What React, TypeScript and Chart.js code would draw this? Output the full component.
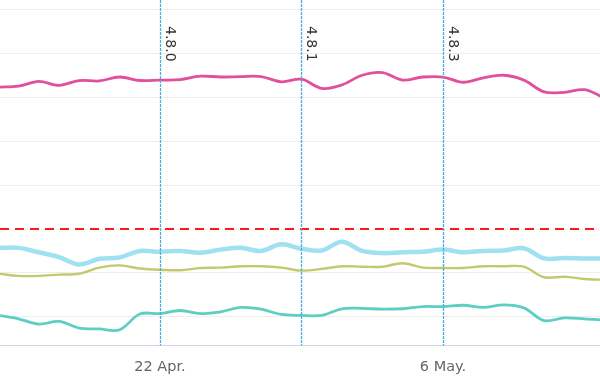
import React, { useEffect, useRef } from "react";
import { Chart, registerables } from "chart.js";

Chart.register(...registerables);

const dates = [
  "2019-04-14", "2019-04-15", "2019-04-16", "2019-04-17", "2019-04-18", "2019-04-19",
  "2019-04-20", "2019-04-21", "2019-04-22", "2019-04-23", "2019-04-24", "2019-04-25",
  "2019-04-26", "2019-04-27", "2019-04-28", "2019-04-29", "2019-04-30", "2019-05-01",
  "2019-05-02", "2019-05-03", "2019-05-04", "2019-05-05", "2019-05-06", "2019-05-07",
  "2019-05-08", "2019-05-09", "2019-05-10", "2019-05-11", "2019-05-12", "2019-05-13",
  "2019-05-14",
];

const pinkSeries = [
  62.4, 62.6, 63.7, 62.8, 63.9, 63.8, 64.7, 63.9, 64.0, 64.1, 64.9, 64.7, 64.8, 64.8,
  63.6, 64.2, 62.1, 62.9, 65.1, 65.7, 64.0, 64.7, 64.7, 63.5, 64.5, 65.1, 64.0, 61.3,
  61.2, 61.8, 59.9,
];
const blueSeries = [
  25.7, 25.7, 24.7, 23.6, 21.9, 23.2, 23.5, 25.0, 24.8, 25.0, 24.6, 25.3, 25.7, 25.0,
  26.5, 25.5, 25.1, 27.1, 25.0, 24.5, 24.7, 24.8, 25.3, 24.7, 25.0, 25.1, 25.6, 23.3,
  23.4, 23.3, 23.3,
];
const oliveSeries = [
  19.8, 19.3, 19.3, 19.6, 19.8, 21.2, 21.7, 21.0, 20.7, 20.6, 21.1, 21.2, 21.5, 21.5,
  21.2, 20.5, 20.9, 21.5, 21.4, 21.4, 22.2, 21.2, 21.1, 21.1, 21.5, 21.5, 21.4, 19.0,
  19.1, 18.6, 18.4,
];
const tealSeries = [
  10.3, 9.5, 8.3, 8.9, 7.4, 7.2, 7.0, 10.6, 10.7, 11.4, 10.7, 11.1, 12.1, 11.7, 10.5,
  10.3, 10.3, 11.8, 11.9, 11.7, 11.8, 12.3, 12.3, 12.6, 12.1, 12.7, 12.0, 9.1, 9.7,
  9.5, 9.2,
];

const threshold = 30;
const releaseNames = ["4.8.0", "4.8.1", "4.8.3"];
const releaseDates = ["2019-04-22", "2019-04-29", "2019-05-06"];
const tickDates = ["2019-04-22", "2019-05-06"];
const tickLabels = ["22 Apr.", "6 May."];
const gridValues = [10, 20, 30, 40, 50, 60, 70, 80];

const DAY = 86400000;
const origin = Date.parse(dates[0]);
const dayOf = (d: string) => (Date.parse(d) - origin) / DAY;

const toPoints = (vals: number[]) => vals.map((v, i) => ({ x: dayOf(dates[i]), y: v }));

const overlayPlugin = {
  id: "overlay",
  afterDatasetsDraw(chart: any) {
    const { ctx, chartArea, scales } = chart;
    const xs = scales.x;
    const ys = scales.y;
    ctx.save();
    const ty = Math.round(ys.getPixelForValue(threshold));
    ctx.beginPath();
    ctx.setLineDash([9, 6]);
    ctx.lineWidth = 2;
    ctx.strokeStyle = "#ff1a1a";
    ctx.moveTo(chartArea.left, ty);
    ctx.lineTo(chartArea.right, ty);
    ctx.stroke();
    releaseDates.forEach((d, i) => {
      const x = Math.round(xs.getPixelForValue(dayOf(d))) + 0.5;
      ctx.beginPath();
      ctx.setLineDash([3, 1]);
      ctx.lineWidth = 1.3;
      ctx.strokeStyle = "#4aaedd";
      ctx.moveTo(x, chartArea.top);
      ctx.lineTo(x, chartArea.bottom);
      ctx.stroke();
      ctx.save();
      ctx.translate(x + 5, 26);
      ctx.rotate(Math.PI / 2);
      ctx.font = "14px 'DejaVu Sans'";
      ctx.fillStyle = "#333333";
      ctx.textBaseline = "alphabetic";
      ctx.textAlign = "left";
      ctx.fillText(releaseNames[i], 0, 0);
      ctx.restore();
    });
    ctx.restore();
  },
};

export default function App() {
  const ref = useRef<HTMLCanvasElement | null>(null);
  useEffect(() => {
    if (!ref.current) return;
    const mk = (label: string, data: number[], color: string, width: number) => ({
      label,
      data: toPoints(data),
      borderColor: color,
      backgroundColor: color,
      borderWidth: width,
      pointRadius: 0,
      tension: 0.35,
      fill: false,
    });
    const chart = new Chart(ref.current, {
      type: "line",
      data: {
        datasets: [
          mk("pink", pinkSeries, "#e24f9c", 2.8),
          mk("blue", blueSeries, "#9fe1f1", 4.5),
          mk("olive", oliveSeries, "#c4c96f", 2.4),
          mk("teal", tealSeries, "#5ccfc2", 2.8),
        ],
      },
      options: {
        responsive: false,
        animation: false,
        devicePixelRatio: 1,
        layout: { padding: { left: 0, right: 0, top: 0, bottom: 2 } },
        plugins: { legend: { display: false }, tooltip: { enabled: false } },
        scales: {
          x: {
            type: "linear",
            min: 0.085,
            max: 29.767,
            grid: { display: false, drawTicks: false },
            border: { display: true, color: "#ccd6eb", width: 1 },
            afterBuildTicks: (axis: any) => {
              axis.ticks = tickDates.map((d) => ({ value: dayOf(d) }));
            },
            ticks: {
              autoSkip: false,
              maxRotation: 0,
              padding: 13,
              color: "#666666",
              font: { family: "'DejaVu Sans'", size: 14.5 },
              callback: (v: any) => {
                const idx = tickDates.findIndex((d) => dayOf(d) === v);
                return idx >= 0 ? tickLabels[idx] : "";
              },
            },
          },
          y: {
            type: "linear",
            min: 3.39,
            max: 82.28,
            afterBuildTicks: (axis: any) => {
              axis.ticks = gridValues.map((v) => ({ value: v }));
            },
            ticks: { display: false },
            grid: { color: "#eeeeee", lineWidth: 1, drawTicks: false },
            border: { display: false },
          },
        },
      },
      plugins: [overlayPlugin],
    });
    return () => chart.destroy();
  }, []);
  return (
    <div style={{ position: "fixed", left: 0, top: 0, width: 600, height: 391, background: "#fff" }}>
      <canvas ref={ref} width={600} height={391} style={{ width: 600, height: 391 }} />
    </div>
  );
}
